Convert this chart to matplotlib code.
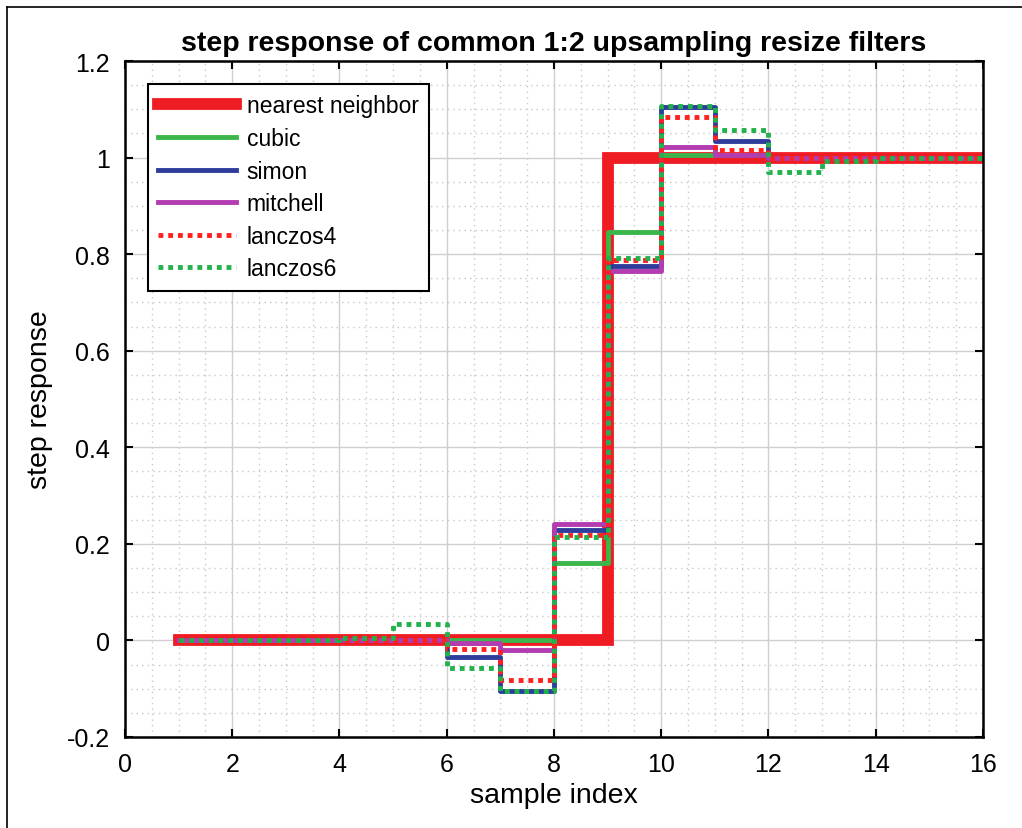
import matplotlib
matplotlib.use("Agg")
import matplotlib.pyplot as plt
from matplotlib.ticker import MultipleLocator, FuncFormatter
from matplotlib.lines import Line2D

plt.rcParams['font.family'] = ['Liberation Sans', 'DejaVu Sans']

# sample index and step response of each filter
sample_index = list(range(1, 17))
nearest = [0, 0, 0, 0, 0, 0, 0, 0, 1, 1, 1, 1, 1, 1, 1, 1]
cubic = [0, 0, 0, 0, 0, 0, 0, 0.16, 0.845, 1.005, 1.005, 1, 1, 1, 1, 1]
simon = [0, 0, 0, 0, 0, -0.035, -0.105, 0.228, 0.775, 1.105, 1.035, 1, 1, 1, 1, 1]
mitchell = [0, 0, 0, 0, 0, -0.005, -0.02, 0.242, 0.765, 1.022, 1.005, 1, 1, 1, 1, 1]
lanczos4 = [0, 0, 0, 0, 0, -0.017, -0.083, 0.218, 0.788, 1.085, 1.016, 1, 1, 1, 1, 1]
lanczos6 = [0, 0, 0, 0.006, 0.034, -0.058, -0.105, 0.214, 0.792, 1.106, 1.058, 0.971, 0.993, 1, 1, 1]

labels = ["nearest neighbor", "cubic", "simon", "mitchell", "lanczos4", "lanczos6"]

fig = plt.figure(figsize=(10.22, 8.29), dpi=100)
ax = fig.add_axes([0.1223, 0.1098, 0.8395, 0.8154])

ax.step(sample_index, nearest, where="post", color="#f01c24", lw=8.5, label=labels[0], solid_joinstyle="miter")
ax.step(sample_index, cubic, where="post", color="#3cb54a", lw=3.5, label=labels[1])
ax.step(sample_index, simon, where="post", color="#2e3d9c", lw=3.5, label=labels[2])
ax.step(sample_index, mitchell, where="post", color="#b23cb0", lw=3.5, label=labels[3])
ax.step(sample_index, lanczos4, where="post", color="#ff2020", lw=3.5, ls=(0, (1, 1)), label=labels[4])
ax.step(sample_index, lanczos6, where="post", color="#22b24c", lw=3.5, ls=(0, (1, 1)), label=labels[5])

ax.set_xlim(0, 16)
ax.set_ylim(-0.2, 1.2)
ax.xaxis.set_major_locator(MultipleLocator(2))
ax.xaxis.set_minor_locator(MultipleLocator(0.5))
ax.yaxis.set_major_locator(MultipleLocator(0.2))
ax.yaxis.set_minor_locator(MultipleLocator(0.05))
ax.yaxis.set_major_formatter(FuncFormatter(lambda v, p: "%g" % round(v, 2)))

ax.grid(which="major", color="#cfcfcf", lw=1.0, ls="-")
ax.grid(which="minor", color="#c8c8c8", lw=1.0, ls=(0, (1, 3)))
ax.set_axisbelow(True)

ax.tick_params(which="major", direction="in", length=6, width=1.5, labelsize=18,
               top=True, right=True, pad=11)
ax.tick_params(which="minor", length=0)
for s in ax.spines.values():
    s.set_linewidth(1.8)

ax.set_title("step response of common 1:2 upsampling resize filters", fontsize=20.5,
             fontweight="bold", pad=8)
ax.set_xlabel("sample index", fontsize=20.5, labelpad=4)
ax.set_ylabel("step response", fontsize=20.5, labelpad=10)

leg = ax.legend(loc="upper left", fontsize=16.5, handlelength=3.4, handletextpad=0.45,
                borderpad=0.45, labelspacing=0.42, borderaxespad=0, fancybox=False,
                framealpha=1, bbox_to_anchor=(0.027, 0.966))
leg.get_frame().set_edgecolor("black")
leg.get_frame().set_linewidth(1.5)

# image frame, only top and left edges are visible
fig.add_artist(Line2D([7 / 1022, 1], [1 - 8 / 829, 1 - 8 / 829], transform=fig.transFigure,
                      color="black", lw=1.2))
fig.add_artist(Line2D([7 / 1022, 7 / 1022], [0, 1 - 8 / 829], transform=fig.transFigure,
                      color="black", lw=1.2))

fig.savefig("out.png", dpi=100)
